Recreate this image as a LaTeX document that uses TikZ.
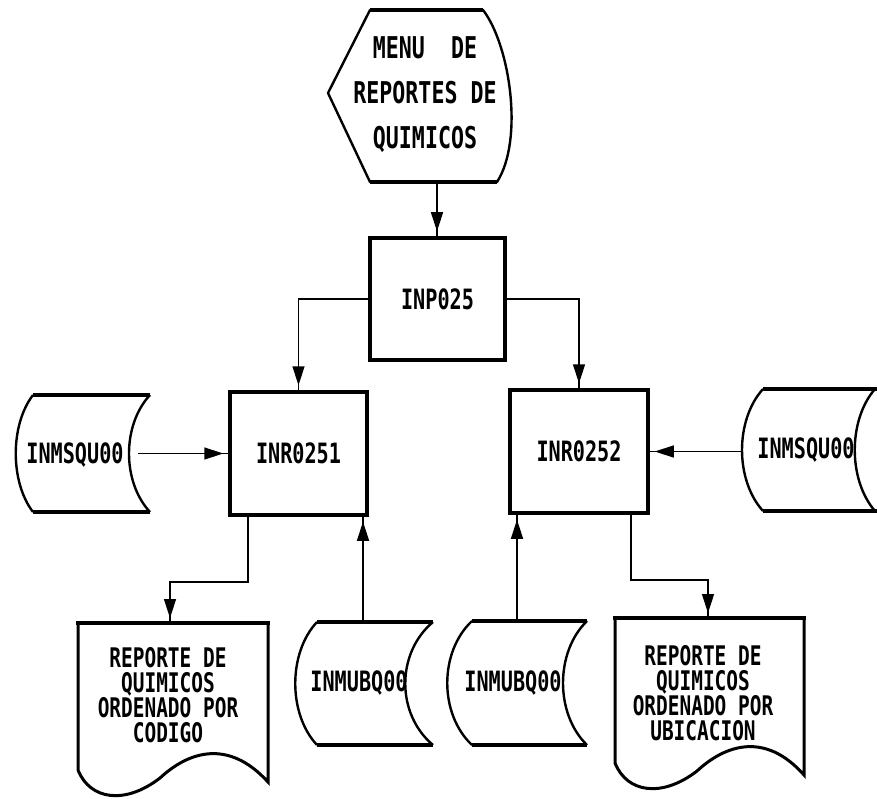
\documentclass[tikz,border=0pt]{standalone}
\usepackage{fontspec}
\newfontfamily\plotfont[FakeStretch=0.72]{DejaVu Sans Mono}
\usetikzlibrary{arrows.meta,decorations.markings}
\begin{document}
\begin{tikzpicture}[x=1pt,y=-1pt,
  conn/.style={line width=1.5pt},
  arr/.style={conn, postaction={decorate},
    decoration={markings, mark=at position -5pt with {\arrow{Triangle[length=19pt,width=12pt]}}}},
  txt/.style={font=\plotfont\bfseries\fontsize{28}{25}\selectfont, inner sep=0pt, align=center},
  doctxt/.style={txt, font=\plotfont\bfseries\fontsize{27}{25}\selectfont},
  procbox/.style={txt, draw, line width=3.5pt},
  thin/.style={line width=2.4pt},
  thick/.style={line width=4.5pt}]
\useasboundingbox (0,0) rectangle (877,799);
\fill[white] (0,0) rectangle (877,799);

% display (menu)
\draw[thin,line join=round] (370,10) -- (483,10) .. controls (510,45) and (524,140) .. (497,182) -- (370,182) -- (328,93) -- cycle;
\draw[thick] (370,10) -- (483,10);
\draw[thick] (370,182) -- (497,182);
\node[txt, font=\plotfont\bfseries\fontsize{30}{45}\selectfont] (menu) at (425,95) {MENU\ \ DE\\REPORTES DE\\QUIMICOS};
\coordinate (menubot) at (437,182);

% process boxes
\node[procbox, minimum width=135pt, minimum height=122pt] (inp) at (437.5,299) {INP025};
\node[procbox, minimum width=137pt, minimum height=123pt] (inr1) at (298.5,453.5) {INR0251};
\node[procbox, minimum width=138pt, minimum height=123pt] (inr2) at (579,451.5) {INR0252};

% stored data: left INMSQU00
\draw[thin] (33,395) .. controls (10,425) and (10,482) .. (33,512);
\draw[thin] (150,395) .. controls (122,425) and (122,482) .. (150,512);
\draw[thick] (33,395) -- (150,395);
\draw[thick] (33,512) -- (150,512);
\node[txt] (sq1) at (75,455) {INMSQU00};
\coordinate (sq1e) at (138,453.5);

% stored data: right INMSQU00
\draw[thin] (763,389) .. controls (735,420) and (735,480) .. (763,511);
\draw[thin] (875,389) .. controls (848,420) and (848,480) .. (875,511);
\draw[thick] (763,389) -- (877,389);
\draw[thick] (763,511) -- (877,511);
\node[txt] (sq2) at (806,450) {INMSQU00};
\coordinate (sq2w) at (742,451.5);

% stored data: INMUBQ00 left
\draw[thin] (317,622) .. controls (288,653) and (288,714) .. (317,745);
\draw[thin] (433,622) .. controls (396,653) and (396,714) .. (433,745);
\draw[thick] (317,622) -- (433,622);
\draw[thick] (317,745) -- (433,745);
\node[txt] (ub1) at (359,683) {INMUBQ00};
\coordinate (ub1top) at (363,622);

% stored data: INMUBQ00 right
\draw[thin] (472,621) .. controls (439,652) and (439,714) .. (472,745);
\draw[thin] (587,621) .. controls (555,652) and (555,714) .. (587,745);
\draw[thick] (472,621) -- (587,621);
\draw[thick] (472,745) -- (587,745);
\node[txt] (ub2) at (513,683) {INMUBQ00};
\coordinate (ub2top) at (517,621);

% documents
\draw[line width=3pt] (78,623) -- (78,770) .. controls (90,800) and (125,805) .. (160,778) .. controls (188,752) and (228,738) .. (268,782) -- (268,623);
\draw[thick] (76,623) -- (270,623);
\node[doctxt] (rep1) at (168,695) {REPORTE DE\\QUIMICOS\\ORDENADO POR\\CODIGO};
\coordinate (rep1top) at (170,623);

\draw[line width=3pt] (615,618) -- (615,763) .. controls (627,793) and (662,798) .. (697,771) .. controls (725,745) and (765,731) .. (804,775) -- (804,618);
\draw[thick] (613,618) -- (806,618);
\node[doctxt] (rep2) at (703,693) {REPORTE DE\\QUIMICOS\\ORDENADO POR\\UBICACION};
\coordinate (rep2top) at (708,618);

% connectors
\draw[arr] (menubot) -- (menubot |- inp.north);
\draw[arr] (inp.west) -| (inr1.north);
\draw[arr] (inp.east) -| (inr2.north);
\draw[arr] (sq1e) -- (inr1.west);
\draw[arr] (sq2w) -- (inr2.east);
\draw[arr] (ub1top) -- (ub1top |- inr1.south);
\draw[arr] (ub2top) -- (ub2top |- inr2.south);
\draw[arr] ([xshift=-50.5pt]inr1.south) -- ++(0,65) -| (rep1top);
\draw[arr] ([xshift=52pt]inr2.south) -- ++(0,65) -| (rep2top);
\end{tikzpicture}
\end{document}
